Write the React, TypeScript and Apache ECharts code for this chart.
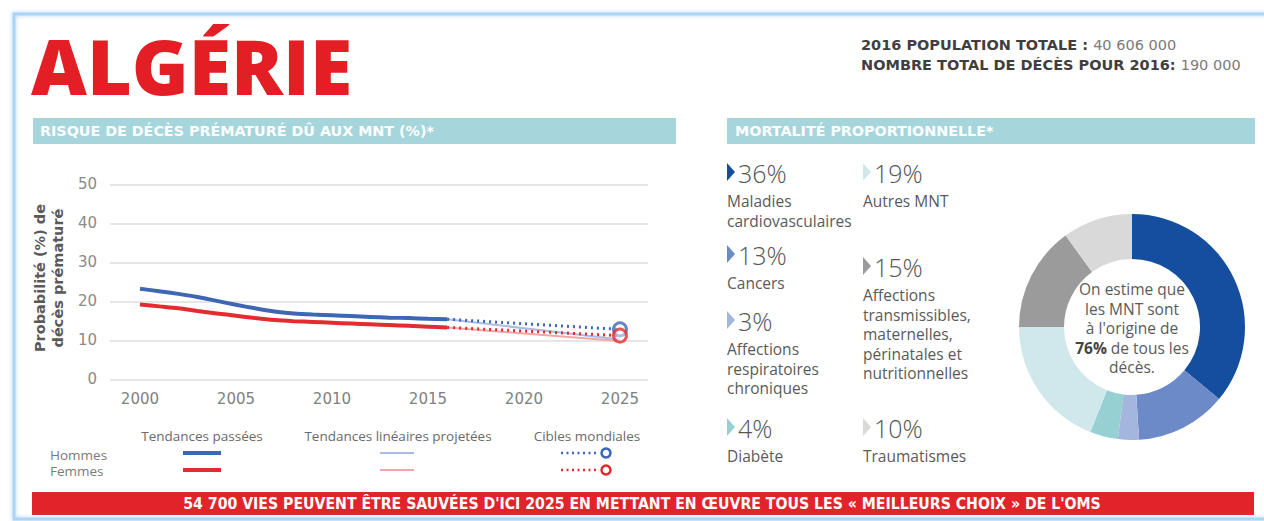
import React, { useEffect, useRef } from "react";
import * as echarts from "echarts";

// ---- Data ----
const pastYears = [2000, 2001, 2002, 2003, 2004, 2005, 2006, 2007, 2008, 2009, 2010, 2011, 2012, 2013, 2014, 2015, 2016];
const hommesPast = [23.2, 22.6, 21.9, 21.1, 20.1, 19.1, 18.2, 17.4, 16.9, 16.6, 16.4, 16.2, 16.0, 15.8, 15.7, 15.5, 15.4];
const femmesPast = [19.2, 18.7, 18.2, 17.5, 16.9, 16.3, 15.7, 15.2, 14.9, 14.7, 14.5, 14.3, 14.1, 13.9, 13.7, 13.5, 13.3];
const projYears = [2016, 2025];
const hommesProj = [15.4, 10.2];
const femmesProj = [13.3, 9.8];
const hommesTarget = [15.4, 12.8];
const femmesTarget = [13.3, 11.2];
const xTicks = [2000, 2005, 2010, 2015, 2020, 2025];

const causePct = [36, 13, 3, 4, 19, 15, 10];
const causeLabels = [
  ["Maladies", "cardiovasculaires"],
  ["Cancers"],
  ["Affections", "respiratoires", "chroniques"],
  ["Diabète"],
  ["Autres MNT"],
  ["Affections", "transmissibles,", "maternelles,", "périnatales et", "nutritionnelles"],
  ["Traumatismes"],
];
const causeColors = ["#154e9f", "#6c89c8", "#a4b5de", "#96d0d3", "#d0e8eb", "#9b9b9b", "#d9d9d9"];

const title = "ALGÉRIE";
const popLabel = "2016 POPULATION TOTALE : ";
const popValue = "40 606 000";
const deathsLabel = "NOMBRE TOTAL DE DÉCÈS POUR 2016: ";
const deathsValue = "190 000";
const leftHeader = "RISQUE DE DÉCÈS PRÉMATURÉ DÛ AUX MNT (%)*";
const rightHeader = "MORTALITÉ PROPORTIONNELLE*";
const banner = "54 700 VIES PEUVENT ÊTRE SAUVÉES D'ICI 2025 EN METTANT EN ŒUVRE TOUS LES « MEILLEURS CHOIX » DE L'OMS";

const FONT = "'Open Sans', Lato, sans-serif";
const WIDE = "'DejaVu Sans', 'Open Sans', sans-serif";
const BLUE = "#3d66b5";
const RED = "#e42c30";
const BLUE_L = "#a9bce3";
const RED_L = "#f4a5a7";
const TEAL = "#a6d5db";
const GREY_TXT = "#5a5a5a";

export default function App() {
  const ref = useRef<HTMLDivElement>(null);
  useEffect(() => {
    if (!ref.current) return;
    const chart = echarts.init(ref.current, undefined, { renderer: "svg" });

    const graphics: any[] = [];
    // frame
    graphics.push({
      type: "rect",
      shape: { x: 14, y: 14, width: 1280, height: 505 },
      style: { fill: "none", stroke: "#a9d5f7", lineWidth: 3, shadowBlur: 4, shadowColor: "rgba(120,180,240,0.6)" },
      z: 1,
    });
    // title
    graphics.push({
      type: "text", x: 31, y: 65,
      style: { text: title, fill: "#e31e24", font: `800 77px ${FONT}`, textVerticalAlign: "middle" },
    });
    // top-right info
    graphics.push({
      type: "text", x: 861, y: 45,
      style: {
        text: `{b|${popLabel}}{n|${popValue}}`, textVerticalAlign: "middle",
        rich: { b: { font: `bold 14.5px ${WIDE}`, fill: "#3f3f3f" }, n: { font: `14.5px ${WIDE}`, fill: "#7a7a7a" } },
      },
    });
    graphics.push({
      type: "text", x: 861, y: 65,
      style: {
        text: `{b|${deathsLabel}}{n|${deathsValue}}`, textVerticalAlign: "middle",
        rich: { b: { font: `bold 14.5px ${WIDE}`, fill: "#3f3f3f" }, n: { font: `14.5px ${WIDE}`, fill: "#7a7a7a" } },
      },
    });
    // header bars
    graphics.push({ type: "rect", shape: { x: 33, y: 118, width: 643, height: 26 }, style: { fill: TEAL } });
    graphics.push({ type: "text", x: 40, y: 131, style: { text: leftHeader, fill: "#fff", font: `bold 14.3px ${WIDE}`, textVerticalAlign: "middle" } });
    graphics.push({ type: "rect", shape: { x: 727, y: 118, width: 528, height: 26 }, style: { fill: TEAL } });
    graphics.push({ type: "text", x: 735, y: 131, style: { text: rightHeader, fill: "#fff", font: `bold 14.3px ${WIDE}`, textVerticalAlign: "middle" } });

    // y axis name
    graphics.push({
      type: "text", x: 49, y: 278, rotation: Math.PI / 2,
      style: { text: "Probabilité (%) de\ndécès prématuré", fill: GREY_TXT, font: `bold 14.5px ${WIDE}`, textAlign: "center", textVerticalAlign: "middle", lineHeight: 18 },
    });

    // legend
    const legendHead = [["Tendances passées", 202], ["Tendances linéaires projetées", 398], ["Cibles mondiales", 587]];
    legendHead.forEach(([t, x]) => {
      graphics.push({ type: "text", x, y: 436, style: { text: t, fill: "#6a6a6a", font: `13.5px ${FONT}`, textAlign: "center", textVerticalAlign: "middle" } });
    });
    graphics.push({ type: "text", x: 50, y: 455, style: { text: "Hommes", fill: "#7a7a7a", font: `13.5px ${FONT}`, textVerticalAlign: "middle" } });
    graphics.push({ type: "text", x: 50, y: 471, style: { text: "Femmes", fill: "#7a7a7a", font: `13.5px ${FONT}`, textVerticalAlign: "middle" } });
    [[453, BLUE, BLUE_L], [470, RED, RED_L]].forEach(([y, c, cl]: any) => {
      graphics.push({ type: "line", shape: { x1: 183, y1: y, x2: 221, y2: y }, style: { stroke: c, lineWidth: 4 } });
      graphics.push({ type: "line", shape: { x1: 380, y1: y, x2: 414, y2: y }, style: { stroke: cl, lineWidth: 2 } });
      graphics.push({ type: "line", shape: { x1: 561, y1: y, x2: 599, y2: y }, style: { stroke: c, lineWidth: 2.5, lineDash: [2, 3.5] } });
      graphics.push({ type: "circle", shape: { cx: 606, cy: y, r: 4.5 }, style: { fill: "#fff", stroke: c, lineWidth: 2.5 } });
    });

    // mortality legend
    const pos = [
      { x: 727, y: 172 }, { x: 727, y: 254 }, { x: 727, y: 320 }, { x: 727, y: 427 },
      { x: 863, y: 172 }, { x: 863, y: 266 }, { x: 863, y: 427 },
    ];
    causePct.forEach((p, i) => {
      const { x, y } = pos[i];
      graphics.push({ type: "polygon", shape: { points: [[x, y - 9], [x + 8, y], [x, y + 9]] }, style: { fill: causeColors[i] } });
      graphics.push({ type: "text", x: x + 11, y: y + 1, style: { text: `${p}%`, fill: "#555", font: `300 25px ${FONT}`, textVerticalAlign: "middle" } });
      causeLabels[i].forEach((l, j) => {
        graphics.push({ type: "text", x, y: y + 29 + j * 19.5, style: { text: l, fill: GREY_TXT, font: `15.5px ${FONT}`, textVerticalAlign: "middle" } });
      });
    });

    // donut center text
    const centerLines = ["On estime que", "les MNT sont", "à l'origine de", "{b|76%} de tous les", "décès."];
    centerLines.forEach((l, i) => {
      graphics.push({
        type: "text", x: 1132, y: 289 + i * 19.5,
        style: {
          text: l, textAlign: "center", textVerticalAlign: "middle", fill: GREY_TXT, font: `15.5px ${FONT}`,
          rich: { b: { font: `bold 15.5px ${FONT}`, fill: "#444" } },
        },
      });
    });

    // banner
    graphics.push({ type: "rect", shape: { x: 32, y: 492, width: 1222, height: 23 }, style: { fill: "#e3232a" } });
    graphics.push({
      type: "text", x: 642, y: 503.5,
      style: { text: banner, fill: "#fff", font: `bold 15.7px 'Liberation Sans Narrow', 'DejaVu Sans Condensed', sans-serif`, textAlign: "center", textVerticalAlign: "middle" },
    });

    const toPts = (xs: number[], ys: number[]) => xs.map((x, i) => [x, ys[i]]);

    chart.setOption({
      animation: false,
      backgroundColor: "#fff",
      grid: { left: 110, width: 538, top: 184.3, height: 195, containLabel: false },
      xAxis: {
        type: "value", min: 1998.44, max: 2026.46,
        axisLine: { show: false }, axisTick: { show: false }, splitLine: { show: false },
        axisLabel: { customValues: xTicks, formatter: (v: number) => String(v), color: "#808080", fontSize: 15, margin: 12, fontFamily: WIDE },
      },
      yAxis: {
        type: "value", min: 0, max: 50, interval: 10,
        axisLine: { show: false }, axisTick: { show: false },
        splitLine: { lineStyle: { color: "#e6e6e6", width: 2 } },
        axisLabel: { color: "#8a8a8a", fontSize: 15, margin: 13, fontFamily: WIDE },
      },
      series: [
        { type: "line", data: toPts(projYears, hommesProj), symbol: "none", lineStyle: { color: BLUE_L, width: 2 }, z: 2 },
        { type: "line", data: toPts(projYears, femmesProj), symbol: "none", lineStyle: { color: RED_L, width: 2 }, z: 2 },
        { type: "line", data: toPts(projYears, hommesTarget), symbol: "none", lineStyle: { color: BLUE, width: 3, type: [2, 4] }, z: 3 },
        { type: "line", data: toPts(projYears, femmesTarget), symbol: "none", lineStyle: { color: RED, width: 3, type: [2, 4] }, z: 3 },
        { type: "line", data: toPts(pastYears, hommesPast), symbol: "none", smooth: 0.3, lineStyle: { color: BLUE, width: 4 }, z: 4 },
        { type: "line", data: toPts(pastYears, femmesPast), symbol: "none", smooth: 0.3, lineStyle: { color: RED, width: 4 }, z: 4 },
        { type: "scatter", data: [[2025, hommesTarget[1]]], symbol: "circle", symbolSize: 13, itemStyle: { color: "rgba(255,255,255,0.6)", borderColor: BLUE, borderWidth: 3 }, z: 5 },
        { type: "scatter", data: [[2025, femmesTarget[1]]], symbol: "circle", symbolSize: 13, itemStyle: { color: "rgba(255,255,255,0.6)", borderColor: RED, borderWidth: 3 }, z: 6 },
        {
          type: "pie", center: [1132, 327], radius: [68, 113], startAngle: 90, clockwise: true,
          label: { show: false }, labelLine: { show: false }, silent: true,
          data: causePct.map((v, i) => ({ value: v, name: causeLabels[i].join(" "), itemStyle: { color: causeColors[i] } })),
        },
      ],
      graphic: graphics,
    });
    return () => chart.dispose();
  }, []);
  return <div ref={ref} style={{ position: "fixed", left: 0, top: 0, width: 1264, height: 521 }} />;
}
